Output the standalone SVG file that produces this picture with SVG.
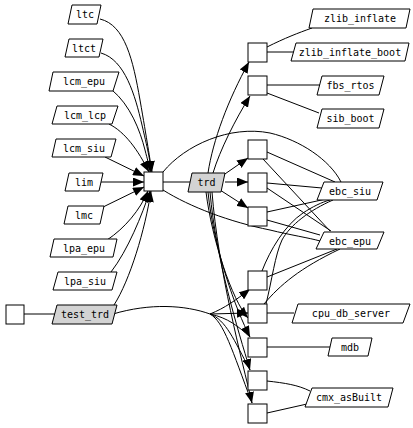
<svg xmlns="http://www.w3.org/2000/svg" width="413" height="428" viewBox="0 0 413 428">
<style>
.n{fill:#fff;stroke:#000;stroke-width:1}
.g{fill:#d3d3d3;stroke:#000;stroke-width:1}
.t{font-family:"DejaVu Sans Mono","Liberation Mono",monospace;font-size:10px;fill:#000;text-anchor:middle}
.e{fill:none;stroke:#000;stroke-width:1}
.a{marker-end:url(#ah)}
</style>
<defs>
<marker id="ah" markerUnits="userSpaceOnUse" markerWidth="12" markerHeight="9" refX="11" refY="4.5" orient="auto">
<path d="M0,0 L11,4.5 L0,9 Z" fill="#000"/>
</marker>
</defs>
<g id="edges">
<path class="e a" d="M100,19 C125,25 133,60 140,100 S150,160 152,172"/>
<path class="e a" d="M101,53 C125,60 135,95 142,125 S150,160 151,172"/>
<path class="e a" d="M112,90 C130,105 140,130 145,150 S150,165 150,172"/>
<path class="e a" d="M109,124 C125,132 138,150 149,172"/>
<path class="e a" d="M105,157 L144,176"/>
<path class="e a" d="M101,182 L144,182"/>
<path class="e a" d="M101,208 L144,187"/>
<path class="e a" d="M107,240 C125,228 140,210 148,191"/>
<path class="e a" d="M111,272 C128,250 142,215 150,191"/>
<path class="e a" d="M114,305 C130,280 145,230 151,191"/>
<path class="e" d="M24,314 L55,314"/>
<path class="e" d="M163,182 L190,182"/>
<path class="e" d="M163,172 C185,145 230,125 270,133 C300,140 330,160 341,182"/>
<path class="e" d="M163,190 C190,207 230,222 270,230 C290,235 310,238 320,241"/>
<path class="e a" d="M208,173 C213,140 228,100 249,62"/>
<path class="e a" d="M213,173 C220,150 235,120 250,96"/>
<path class="e a" d="M222,176 L248,158"/>
<path class="e a" d="M225,182 L248,182"/>
<path class="e a" d="M220,190 L248,208"/>
<path class="e a" d="M206,192 C212,240 232,300 248,318"/>
<path class="e a" d="M208,192 C214,250 236,310 250,337"/>
<path class="e a" d="M210,192 C216,260 238,330 250,370"/>
<path class="e a" d="M212,192 C218,270 242,360 252,403"/>
<path class="e" d="M113,314 C150,303 185,305 210,314"/>
<path class="e a" d="M210,314 C225,308 236,300 250,289"/>
<path class="e a" d="M210,314 L248,313"/>
<path class="e" d="M210,314 C228,318 238,326 250,337"/>
<path class="e" d="M210,314 C226,320 234,340 250,370"/>
<path class="e" d="M210,314 C224,322 232,350 252,403"/>
<path class="e" d="M267,47 C285,38 298,33 312,28"/>
<path class="e" d="M267,52 L294,52"/>
<path class="e" d="M267,85 L320,85"/>
<path class="e" d="M267,93 L319,113"/>
<path class="e" d="M267,152 L335,182"/>
<path class="e" d="M263,159 L330,231"/>
<path class="e" d="M267,183 L322,188"/>
<path class="e" d="M267,188 L331,231"/>
<path class="e" d="M267,212 L326,199"/>
<path class="e" d="M267,220 L320,235"/>
<path class="e" d="M262,271 C270,250 285,225 303,213 C312,207 322,202 330,200"/>
<path class="e" d="M267,277 L337,249"/>
<path class="e" d="M266,304 C272,280 275,255 282,240 C290,225 310,210 333,200"/>
<path class="e" d="M264,304 C280,285 300,268 340,249"/>
<path class="e" d="M267,313 L294,313"/>
<path class="e" d="M267,347 L330,347"/>
<path class="e" d="M267,381 C285,383 298,385 310,391"/>
<path class="e" d="M267,413 L307,404"/>
</g>
<g id="ltc"><polygon class="n" points="72,5 101,5 97,24 68,24"/><text class="t" x="85" y="18">ltc</text></g>
<g id="ltct"><polygon class="n" points="69,39 103,39 99,57 65,57"/><text class="t" x="84" y="52">ltct</text></g>
<g id="lcm_epu"><polygon class="n" points="53,72 119,72 113,91 49,91"/><text class="t" x="84" y="85">lcm_epu</text></g>
<g id="lcm_lcp"><polygon class="n" points="57,106 118,106 112,124 52,124"/><text class="t" x="85" y="119">lcm_lcp</text></g>
<g id="lcm_siu"><polygon class="n" points="56,139 116,139 111,157 52,157"/><text class="t" x="84" y="152">lcm_siu</text></g>
<g id="lim"><polygon class="n" points="69,173 103,173 99,191 65,191"/><text class="t" x="84" y="186">lim</text></g>
<g id="lmc"><polygon class="n" points="68,206 104,206 100,224 64,224"/><text class="t" x="84" y="219">lmc</text></g>
<g id="lpa_epu"><polygon class="n" points="54,239 117,239 113,257 50,257"/><text class="t" x="84" y="252">lpa_epu</text></g>
<g id="lpa_siu"><polygon class="n" points="58,272 117,272 112,290 53,290"/><text class="t" x="85" y="285">lpa_siu</text></g>
<g id="test_trd"><polygon class="g" points="57,305 117,305 112,324 52,324"/><text class="t" x="85" y="318">test_trd</text></g>
<g id="src"><rect class="n" x="6" y="305" width="18" height="19"/></g>
<g id="hub"><rect class="n" x="144" y="172" width="19" height="19"/></g>
<g id="trd"><polygon class="g" points="192,173 225,173 221,192 188,192"/><text class="t" x="206.5" y="186">trd</text></g>
<g id="b1"><rect class="n" x="248" y="43" width="19" height="19"/></g>
<g id="b2"><rect class="n" x="248" y="76" width="19" height="19"/></g>
<g id="b3"><rect class="n" x="248" y="140" width="19" height="19"/></g>
<g id="b4"><rect class="n" x="248" y="173" width="19" height="19"/></g>
<g id="b5"><rect class="n" x="248" y="207" width="19" height="19"/></g>
<g id="b6"><rect class="n" x="248" y="271" width="19" height="19"/></g>
<g id="b7"><rect class="n" x="248" y="304" width="19" height="19"/></g>
<g id="b8"><rect class="n" x="248" y="338" width="19" height="19"/></g>
<g id="b9"><rect class="n" x="248" y="371" width="19" height="19"/></g>
<g id="b10"><rect class="n" x="248" y="404" width="19" height="19"/></g>
<g id="zlib_inflate"><polygon class="n" points="313,9 410,9 406,28 309,28"/><text class="t" x="360" y="22">zlib_inflate</text></g>
<g id="zlib_inflate_boot"><polygon class="n" points="296,43 409,43 405,61 291,61"/><text class="t" x="350" y="56">zlib_inflate_boot</text></g>
<g id="fbs_rtos"><polygon class="n" points="322,76 384,76 379,95 317,95"/><text class="t" x="350.5" y="89">fbs_rtos</text></g>
<g id="sib_boot"><polygon class="n" points="322,109 384,109 379,128 317,128"/><text class="t" x="350.5" y="122">sib_boot</text></g>
<g id="ebc_siu"><polygon class="n" points="324,182 383,182 377,200 317,200"/><text class="t" x="350" y="195">ebc_siu</text></g>
<g id="ebc_epu"><polygon class="n" points="324,232 384,232 377,249 316,249"/><text class="t" x="350" y="245">ebc_epu</text></g>
<g id="cpu_db_server"><polygon class="n" points="298,304 410,304 403,323 292,323"/><text class="t" x="351" y="317">cpu_db_server</text></g>
<g id="mdb"><polygon class="n" points="332,338 372,338 368,356 328,356"/><text class="t" x="350" y="351">mdb</text></g>
<g id="cmx_asBuilt"><polygon class="n" points="312,388 393,388 388,407 305,407"/><text class="t" x="349" y="401">cmx_asBuilt</text></g>
</svg>
